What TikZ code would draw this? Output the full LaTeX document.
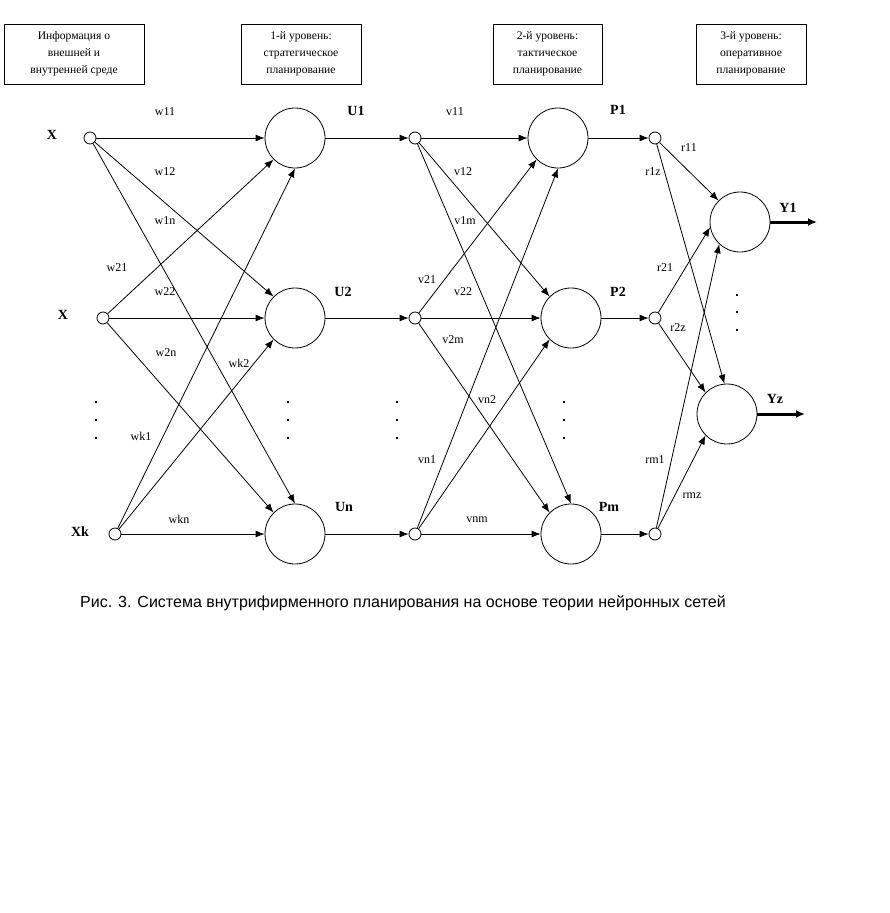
\documentclass[tikz,border=0pt]{standalone}
\usepackage{fontspec}
\setmainfont{Liberation Serif}
\newfontfamily\capfont{Liberation Sans}
\usetikzlibrary{arrows.meta}

\tikzset{
  neuron/.style={draw, circle, minimum size=60pt, inner sep=0pt},
  pin/.style={draw, circle, minimum size=12pt, inner sep=0pt},
  levelbox/.style={draw, minimum height=60pt, align=center, inner sep=2pt,
    font=\fontsize{11.6}{17}\selectfont},
  wlabel/.style={font=\fontsize{12}{12}\selectfont, inner sep=0pt},
  nlabel/.style={font=\fontsize{14}{14}\selectfont\bfseries, inner sep=0pt},
  conn/.style={-{Latex[length=9pt,width=7pt]}},
  outarrow/.style={-{Latex[length=9pt,width=8pt]}, line width=3pt},
}

\begin{document}
\begin{tikzpicture}[x=1pt, y=-1pt, line width=0.8pt]
\useasboundingbox (0,0) rectangle (890,913);

% level boxes
\node[levelbox, minimum width=140pt] (info) at (74,54) {Информация о\\внешней и\\внутренней среде};
\node[levelbox, minimum width=120pt] (lev1) at (301,54) {1-й уровень:\\стратегическое\\планирование};
\node[levelbox, minimum width=109pt] (lev2) at (547.5,54) {2-й уровень:\\тактическое\\планирование};
\node[levelbox, minimum width=110pt] (lev3) at (751,54) {3-й уровень:\\оперативное\\планирование};

% inputs
\node[pin] (x1) at (90,138) {};
\node[pin] (x2) at (103,318) {};
\node[pin] (xk) at (115,534) {};
\node[nlabel] (lx1) at (52,135) {X};
\node[nlabel] (lx2) at (63,315) {X};
\node[nlabel] (lxk) at (80,532) {Xk};

% level 1
\node[neuron] (U1) at (295,138) {};
\node[neuron] (U2) at (295,318) {};
\node[neuron] (Un) at (295,534) {};
\node[pin] (u1) at (415,138) {};
\node[pin] (u2) at (415,318) {};
\node[pin] (un) at (415,534) {};
\node[nlabel] (lU1) at (356,111) {U1};
\node[nlabel] (lU2) at (343,292) {U2};
\node[nlabel] (lUn) at (344,507) {Un};

% level 2
\node[neuron] (P1) at (558,138) {};
\node[neuron] (P2) at (571,318) {};
\node[neuron] (Pm) at (571,534) {};
\node[pin] (p1) at (655,138) {};
\node[pin] (p2) at (655,318) {};
\node[pin] (pm) at (655,534) {};
\node[nlabel] (lP1) at (618,110) {P1};
\node[nlabel] (lP2) at (618,292) {P2};
\node[nlabel] (lPm) at (609,507) {Pm};

% level 3
\node[neuron] (Y1) at (740,222) {};
\node[neuron] (Yz) at (727,414) {};
\coordinate (y1end) at (817,222);
\coordinate (yzend) at (805,414);
\node[nlabel] (lY1) at (788,208) {Y1};
\node[nlabel] (lYz) at (775,399) {Yz};

% inputs -> level 1
\draw[conn] (x1) -- (U1);
\draw[conn] (x1) -- (U2.135);
\draw[conn] (x1) -- (Un.north);
\draw[conn] (x2) -- (U1.225);
\draw[conn] (x2) -- (U2);
\draw[conn] (x2) -- (Un.135);
\draw[conn] (xk) -- (U1.south);
\draw[conn] (xk) -- (U2.225);
\draw[conn] (xk) -- (Un);
\foreach \a in {1, 2, n}
    \draw[conn] (U\a) -- (u\a);

% level 1 -> level 2
\draw[conn] (u1) -- (P1);
\draw[conn] (u1) -- (P2.135);
\draw[conn] (u1) -- (Pm.north);
\draw[conn] (u2) -- (P1.225);
\draw[conn] (u2) -- (P2);
\draw[conn] (u2) -- (Pm.135);
\draw[conn] (un) -- (P1.south);
\draw[conn] (un) -- (P2.225);
\draw[conn] (un) -- (Pm);
\foreach \a in {1, 2, m}
    \draw[conn] (P\a) -- (p\a);

% level 2 -> level 3
\draw[conn] (p1) -- (Y1.135);
\draw[conn] (p1) -- (Yz.95);
\draw[conn] (p2) -- (Y1.190);
\draw[conn] (p2) -- (Yz.135);
\draw[conn] (pm) -- (Y1.227);
\draw[conn] (pm) -- (Yz.225);
\draw[outarrow] (Y1) -- (y1end);
\draw[outarrow] (Yz) -- (yzend);

% weights
\node[wlabel] (w11) at (165,112) {w11};
\node[wlabel] (w12) at (165,172) {w12};
\node[wlabel] (w1n) at (165,221) {w1n};
\node[wlabel] (w21) at (117,268) {w21};
\node[wlabel] (w22) at (165,292) {w22};
\node[wlabel] (w2n) at (166,353) {w2n};
\node[wlabel] (wk2) at (239,363) {wk2};
\node[wlabel] (wk1) at (141,436) {wk1};
\node[wlabel] (wkn) at (179,519) {wkn};
\node[wlabel] (v11) at (455,112) {v11};
\node[wlabel] (v12) at (463,172) {v12};
\node[wlabel] (v1m) at (465,221) {v1m};
\node[wlabel] (v21) at (427,280) {v21};
\node[wlabel] (v22) at (463,292) {v22};
\node[wlabel] (v2m) at (453,340) {v2m};
\node[wlabel] (vn2) at (487,400) {vn2};
\node[wlabel] (vn1) at (427,460) {vn1};
\node[wlabel] (vnm) at (477,520) {vnm};
\node[wlabel] (r11) at (689,148) {r11};
\node[wlabel] (r1z) at (653,172) {r1z};
\node[wlabel] (r21) at (665,268) {r21};
\node[wlabel] (r2z) at (678,328) {r2z};
\node[wlabel] (rm1) at (655,460) {rm1};
\node[wlabel] (rmz) at (692,496) {rmz};

% dots
\foreach \x in {96, 288, 397, 564}
    \foreach \y in {402, 420, 438}
        \fill (\x-1,\y-1) rectangle ++(2,2);
\foreach \y in {295, 312, 330}
    \fill (736,\y-1) rectangle ++(2,2);

\node[font=\capfont\fontsize{16}{16}\selectfont] (caption) at (403,603)
{Рис. 3. Система внутрифирменного планирования на основе теории нейронных сетей};

\end{tikzpicture}
\end{document}
